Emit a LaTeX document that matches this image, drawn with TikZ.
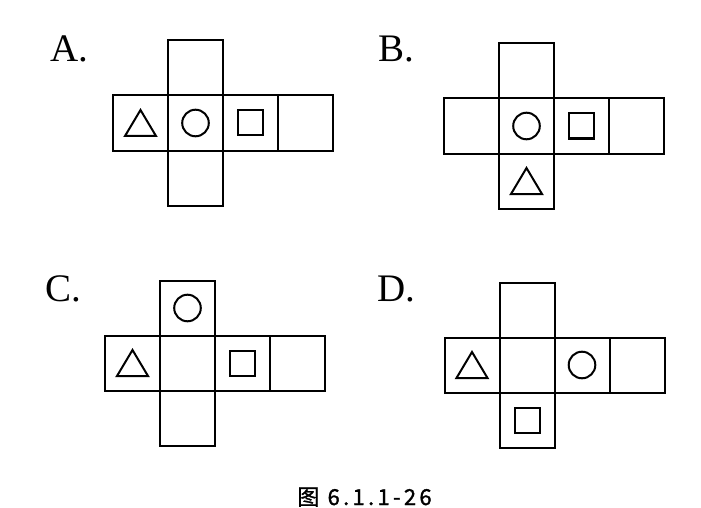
\documentclass[tikz,border=0pt]{standalone}
\usepackage{fontspec}
\setmainfont{Liberation Serif}
\newfontfamily\cjk{Noto Sans CJK SC}[LetterSpace=15,FakeBold=1.2]
\usetikzlibrary{positioning}
\tikzset{line width=1pt,
  face/.style={draw=black,line width=1pt},
  sym/.style={draw=black,line width=1pt},
  optlabel/.style={font=\fontsize{19.5}{21}\selectfont,anchor=base west,inner sep=0pt},
  caption/.style={font=\cjk\fontsize{11}{12}\selectfont,anchor=base west,inner sep=0pt},
  tri/.pic={\draw[sym] (-15.5,13)--(15.5,13)--(0,-13)--cycle;},
  circ/.pic={\draw[sym] (0,0) circle (6.65pt);},
  sqr/.pic={\draw[sym] (-12.5,-12.5) rectangle (12.5,12.5);}}

\begin{document}
\begin{tikzpicture}[x=.5pt,y=-.5pt]
\path[use as bounding box] (0,0) rectangle (701,508);
% the four nets, origin = top left of the long row
\foreach \ox/\oy in {113/95.5,444/98.5,105/335.5,444.5/337.5}{
  \draw[face] (\ox,\oy) rectangle +(220,55);
  \draw[face] (\ox+55,\oy-55) rectangle +(55,165);
  \draw[face] (\ox+165,\oy)--+(0,55);}
% option letters
\node[optlabel] (labA) at (50,62) {A.};
\node[optlabel] (labB) at (378,62) {B.};
\node[optlabel] (labC) at (45,301) {C.};
\node[optlabel] (labD) at (377,301) {D.};
% symbols: net origin / pic / column / row
\foreach \ox/\oy/\s/\c/\r in {113/95.5/tri/0/0,113/95.5/circ/1/0,113/95.5/sqr/2/0,
  444/98.5/circ/1/0,444/98.5/sqr/2/0,444/98.5/tri/1/1,
  105/335.5/circ/1/-1,105/335.5/tri/0/0,105/335.5/sqr/2/0,
  444.5/337.5/tri/0/0,444.5/337.5/circ/2/0,444.5/337.5/sqr/1/1}
  \pic at (\ox+27.5+55*\c,\oy+27.5+55*\r) {\s};
\node[caption] (cap) at (297,505) {图 6.1.1-26};
\end{tikzpicture}
\end{document}
